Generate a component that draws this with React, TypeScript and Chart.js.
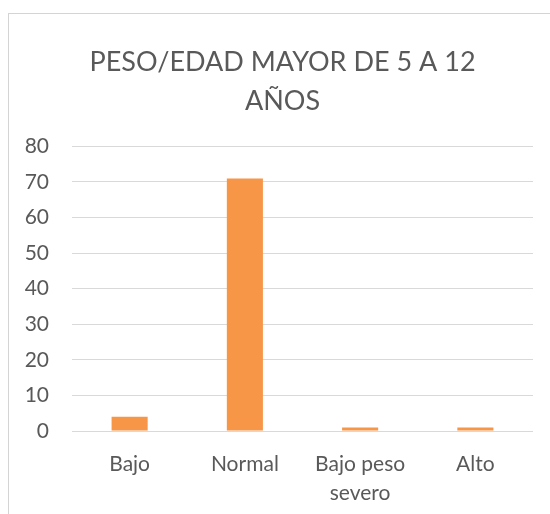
import React, { useEffect, useRef } from "react";
import { Chart, registerables } from "chart.js";

Chart.register(...registerables);

const titleLines = ["PESO/EDAD MAYOR DE 5 A 12", "AÑOS"];
const categories = ["Bajo", "Normal", ["Bajo peso", "severo"], "Alto"];
const values = [4, 71, 1, 1];
const yMin = 0;
const yMax = 80;
const yStep = 10;

const shiftTitle = {
  id: "shiftTitle",
  afterLayout(chart: any) {
    if (chart.titleBlock) {
      chart.titleBlock.left = 32;
    }
  },
};

export default function App() {
  const ref = useRef<HTMLCanvasElement | null>(null);

  useEffect(() => {
    if (!ref.current) return;
    const chart = new Chart(ref.current, {
      type: "bar",
      data: {
        labels: categories as any,
        datasets: [
          {
            data: values,
            backgroundColor: "#F79646",
            borderWidth: 0,
            categoryPercentage: 1,
            barPercentage: 0.313,
          },
        ],
      },
      options: {
        animation: false,
        responsive: false,
        maintainAspectRatio: false,
        layout: { padding: { left: 0, right: 17, top: 0, bottom: 0 } },
        plugins: {
          legend: { display: false },
          tooltip: { enabled: false },
          title: {
            display: true,
            text: titleLines,
            color: "#595959",
            font: { family: "Lato", size: 27, weight: "normal", lineHeight: 1.433 },
            padding: { top: 43, bottom: 26 },
          },
        },
        scales: {
          x: {
            grid: { display: false },
            border: { display: false },
            ticks: {
              color: "#595959",
              font: { family: "Lato", size: 21, lineHeight: 1.38 },
              padding: 11,
              maxRotation: 0,
              autoSkip: false,
            },
            afterFit: (s: any) => {
              s.height = 83;
            },
          },
          y: {
            min: yMin,
            max: yMax,
            grid: { color: "#d9d9d9", lineWidth: 1, drawTicks: false },
            border: { display: false },
            ticks: {
              stepSize: yStep,
              color: "#595959",
              font: { family: "Lato", size: 21 },
              padding: 23,
            },
            afterFit: (s: any) => {
              s.width = 72;
            },
          },
        },
      },
      plugins: [shiftTitle],
    });
    return () => chart.destroy();
  }, []);

  return (
    <div style={{ position: "fixed", left: 0, top: 0, width: 550, height: 514, background: "#fff", overflow: "hidden" }}>
      <div
        style={{
          position: "absolute",
          left: 8,
          top: 13,
          width: 620,
          height: 620,
          border: "1px solid #d4d4d4",
        }}
      />
      <canvas ref={ref} width={550} height={514} style={{ position: "absolute", left: 0, top: 0 }} />
    </div>
  );
}
